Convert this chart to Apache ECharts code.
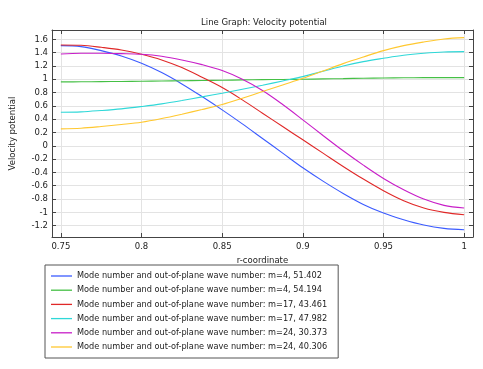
<!DOCTYPE html>
<html><head><meta charset="utf-8">
<script src="https://cdn.jsdelivr.net/npm/echarts@6/dist/echarts.min.js"></script>
<style>html,body{margin:0;padding:0;background:#fff}#c{width:483px;height:369px}</style>
</head><body><div id="c"></div>
<script>
const rCoord = [0.75,0.7625,0.775,0.7875,0.8,0.8125,0.825,0.8375,0.85,0.8625,0.875,0.8875,0.9,0.9125,0.925,0.9375,0.95,0.9625,0.975,0.9875,1.0];
const m4_51402 = [1.505,1.49,1.43,1.35,1.24,1.10,0.93,0.74,0.54,0.33,0.11,-0.11,-0.33,-0.53,-0.715,-0.88,-1.01,-1.11,-1.19,-1.24,-1.26];
const m4_54194 = [0.96,0.962,0.965,0.967,0.97,0.973,0.977,0.981,0.985,0.99,0.994,0.997,1.0,1.005,1.01,1.015,1.019,1.022,1.024,1.025,1.025];
const m17_43461 = [1.515,1.51,1.48,1.44,1.375,1.29,1.175,1.03,0.875,0.69,0.49,0.29,0.09,-0.11,-0.31,-0.50,-0.675,-0.825,-0.935,-1.0,-1.035];
const m17_47982 = [0.505,0.51,0.53,0.555,0.59,0.63,0.68,0.735,0.79,0.85,0.91,0.975,1.04,1.12,1.2,1.265,1.315,1.36,1.39,1.41,1.415];
const m24_30373 = [1.38,1.39,1.39,1.385,1.375,1.345,1.29,1.22,1.13,1.0,0.83,0.62,0.39,0.155,-0.075,-0.29,-0.49,-0.66,-0.80,-0.895,-0.935];
const m24_40306 = [0.255,0.265,0.29,0.32,0.355,0.41,0.475,0.545,0.62,0.715,0.815,0.915,1.015,1.125,1.235,1.335,1.43,1.505,1.56,1.605,1.625];
const seriesNames = [
  'Mode number and out-of-plane wave number: m=4, 51.402',
  'Mode number and out-of-plane wave number: m=4, 54.194',
  'Mode number and out-of-plane wave number: m=17, 43.461',
  'Mode number and out-of-plane wave number: m=17, 47.982',
  'Mode number and out-of-plane wave number: m=24, 30.373',
  'Mode number and out-of-plane wave number: m=24, 40.306'
];
const seriesValues = [m4_51402, m4_54194, m17_43461, m17_47982, m24_30373, m24_40306];
const xTicks = [0.75,0.8,0.85,0.9,0.95,1];
const yTicks = [-1.2,-1,-0.8,-0.6,-0.4,-0.2,0,0.2,0.4,0.6,0.8,1,1.2,1.4,1.6];
const colors = ['#3b5bff','#45c045','#e02828','#2fd8d8','#c81ec8','#ffc830'];

const FONT = 'DejaVu Sans';
const FS = 8.5;
const frameColor = '#444';
const fmt = v => String(+v.toFixed(2));

function xAx(pos, labels) {
  return {
    type: 'value', position: pos, min: 0.74451, max: 1.00549,
    axisLine: {show: true, onZero: false, lineStyle: {color: frameColor, width: 1}},
    axisTick: {show: true, inside: true, length: 4, customValues: xTicks, lineStyle: {color: frameColor}},
    axisLabel: {show: labels, customValues: xTicks, formatter: fmt, fontFamily: FONT, fontSize: FS, color: '#222', margin: 5},
    splitLine: {show: labels, lineStyle: {color: '#e3e3e3', width: 1}},
    name: labels ? 'r-coordinate' : '', nameLocation: 'middle', nameGap: 11,
    nameTextStyle: {fontFamily: FONT, fontSize: FS, color: '#222'}
  };
}
function yAx(pos, labels) {
  return {
    type: 'value', position: pos, min: -1.37, max: 1.74,
    axisLine: {show: true, onZero: false, lineStyle: {color: frameColor, width: 1}},
    axisTick: {show: true, inside: true, length: 4, customValues: yTicks, lineStyle: {color: frameColor}},
    axisLabel: {show: labels, customValues: yTicks, formatter: fmt, fontFamily: FONT, fontSize: FS, color: '#222', margin: 4},
    splitLine: {show: labels, lineStyle: {color: '#e3e3e3', width: 1}},
    name: labels ? 'Velocity potential' : '', nameLocation: 'middle', nameGap: 35,
    nameTextStyle: {fontFamily: FONT, fontSize: FS, color: '#222'}
  };
}

const chart = echarts.init(document.getElementById('c'), null, {renderer: 'canvas'});
chart.setOption({
  animation: false,
  backgroundColor: '#fff',
  color: colors,
  title: {
    text: 'Line Graph: Velocity potential', left: 259, top: 13, textAlign: 'center',
    textStyle: {fontFamily: FONT, fontSize: FS, fontWeight: 'normal', color: '#222'}
  },
  grid: {left: 45, right: 10, top: 30, bottom: 132, containLabel: false},
  xAxis: [xAx('bottom', true), xAx('top', false)],
  yAxis: [yAx('left', true), yAx('right', false)],
  legend: {
    orient: 'vertical', left: 45, top: 265,
    padding: [6, 11, 6, 6], itemGap: 4.2, itemWidth: 21, itemHeight: 1.3,
    icon: 'rect',
    borderColor: '#555', borderWidth: 1, backgroundColor: '#fff',
    textStyle: {fontFamily: FONT, fontSize: 8.2, color: '#222', lineHeight: 10},
    data: seriesNames
  },
  series: seriesNames.map((n, i) => ({
    name: n, type: 'line', smooth: 0.35, symbol: 'none',
    xAxisIndex: 0, yAxisIndex: 0,
    lineStyle: {width: 1.1, color: colors[i]},
    itemStyle: {color: colors[i]},
    data: rCoord.map((r, k) => [r, seriesValues[i][k]])
  }))
});
</script></body></html>
